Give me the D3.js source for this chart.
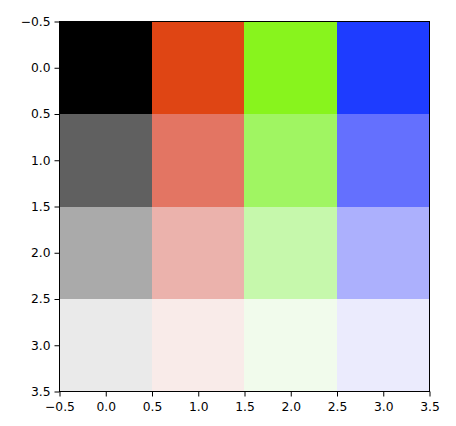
<!DOCTYPE html>
<html><head><meta charset="utf-8">
<script src="https://cdn.jsdelivr.net/npm/d3@7/dist/d3.min.js"></script>
<style>body{margin:0;background:#fff}svg text{font-family:"DejaVu Sans",sans-serif}</style>
</head><body><svg id="c" width="456" height="426"></svg>
<script>
const rows = [0, 1, 2, 3];
const cols = [0, 1, 2, 3];
const row0 = ["#000000", "#df4514", "#88f41d", "#1e3cff"];
const row1 = ["#606060", "#e37563", "#a0f562", "#6470fe"];
const row2 = ["#aaaaaa", "#ebb2ac", "#c6f8ac", "#acb0fd"];
const row3 = ["#eaeaea", "#f9ebe9", "#f1fbec", "#ebebfd"];
const colors = [row0, row1, row2, row3];
const ticks = [-0.5, 0.0, 0.5, 1.0, 1.5, 2.0, 2.5, 3.0, 3.5];

const L = 59.5, R = 429.5, T = 21.5, B = 391.5;
const svg = d3.select("#c");
const x = d3.scaleLinear().domain([-0.5, 3.5]).range([L, R]);
const y = d3.scaleLinear().domain([-0.5, 3.5]).range([T, B]);

const cells = [];
rows.forEach(r => cols.forEach(c => cells.push({r, c, color: colors[r][c]})));
svg.append("g").selectAll("rect").data(cells).join("rect")
  .attr("x", d => x(d.c - 0.5) - 0.5).attr("y", d => y(d.r - 0.5))
  .attr("width", d => x(d.c + 0.5) - x(d.c - 0.5) + 0.3)
  .attr("height", d => y(d.r + 0.5) - y(d.r - 0.5) + 0.3)
  .attr("fill", d => d.color).attr("shape-rendering", "crispEdges");

const fmt = d => d3.format(".1f")(d).replace("-", "\u2212");
const xa = svg.append("g").attr("transform", `translate(0,${B})`)
  .call(d3.axisBottom(x).tickValues(ticks).tickFormat(fmt).tickSize(5).tickPadding(5.5));
const ya = svg.append("g").attr("transform", `translate(${L},0)`)
  .call(d3.axisLeft(y).tickValues(ticks).tickFormat(fmt).tickSize(5).tickPadding(4));
[xa, ya].forEach(a => {
  a.select(".domain").remove();
  a.selectAll("text").attr("font-size", 12.3).attr("fill", "#000").attr("font-family", "DejaVu Sans");
  a.selectAll("line").attr("stroke", "#000").attr("stroke-width", 1);
});
svg.append("rect").attr("x", L).attr("y", T).attr("width", R - L).attr("height", B - T)
  .attr("fill", "none").attr("stroke", "#000").attr("stroke-width", 1);
</script></body></html>
